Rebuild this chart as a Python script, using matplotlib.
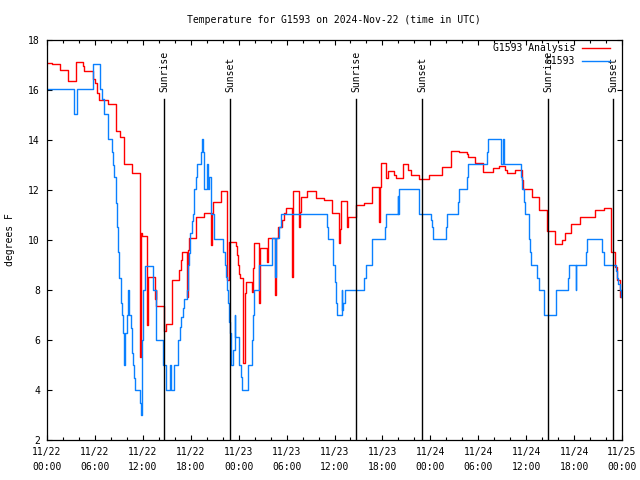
import matplotlib
matplotlib.use("Agg")
import matplotlib.pyplot as plt

plt.rcParams['font.family'] = ['DejaVu Sans Mono']

# hours since 11/22 00:00 UTC, temperature in degrees F (step data)
red_hours = [0, 0.58, 1.63, 2.67, 3.63, 4.55, 4.67, 5.72, 6.0, 6.3, 6.5, 7.68, 8.6, 9.14, 9.6, 9.68,
             10.69, 11.65, 11.8, 11.94, 12.57, 12.65, 13.52, 13.6, 13.65, 14.6, 14.7, 14.9, 15.7,
             16.57, 16.78, 16.95, 17.49, 17.6, 17.78, 18.66, 19.66, 20.55, 20.65, 20.83, 21.75,
             22.58, 22.83, 23.62, 23.75, 23.88, 24.08, 24.2, 24.58, 24.75, 24.88, 25.71, 25.85,
             25.96, 26.55, 26.67, 27.55, 27.71, 28.5, 28.7, 28.96, 29.46, 29.71, 29.88, 30.7,
             30.84, 31.6, 31.7, 31.8, 32.6, 33.68, 34.73, 35.65, 36.61, 36.7, 36.81, 37.6, 37.73,
             38.65, 39.65, 40.66, 41.57, 41.7, 41.82, 42.5, 42.74, 43.4, 43.7, 44.62, 45.2, 45.58,
             46.58, 47.83, 49.5, 50.55, 51.63, 52.55, 52.68, 53.59, 54.55, 55.81, 56.6, 57.3,
             57.64, 58.6, 59.5, 59.64, 60.69, 61.64, 62.65, 63.61, 64.5, 64.86, 65.57, 66.74,
             68.62, 69.75, 70.59, 71.13, 71.34, 71.75, 72]
red_temp = [17.07, 17.03, 16.8, 16.35, 17.11, 16.96, 16.76, 16.45, 16.29, 15.87, 15.6, 15.43, 14.37,
            14.11, 13.77, 13.03, 12.67, 5.33, 10.27, 10.16, 6.6, 8.51, 7.63, 8.0, 7.36, 6.87, 6.36,
            6.64, 8.4, 8.8, 9.2, 9.51, 7.73, 9.6, 10.09, 10.93, 11.09, 9.8, 11.09, 11.51, 11.97,
            8.4, 9.93, 9.76, 9.4, 9.0, 8.64, 8.47, 5.09, 7.87, 8.33, 7.93, 8.87, 9.87, 7.47, 9.67,
            9.13, 10.07, 7.8, 10.07, 10.53, 10.8, 11.07, 11.27, 8.53, 11.96, 10.53, 11.13, 11.73,
            11.97, 11.67, 11.6, 11.07, 9.87, 10.43, 11.56, 10.53, 10.93, 11.39, 11.47, 12.11,
            10.73, 12.11, 13.07, 12.47, 12.75, 12.6, 12.47, 13.03, 12.8, 12.6, 12.44, 12.6, 12.91,
            13.57, 13.5, 13.44, 13.31, 13.07, 12.73, 12.87, 12.96, 12.8, 12.67, 12.8, 12.4, 12.03,
            11.71, 11.2, 10.36, 9.83, 10.0, 10.27, 10.63, 10.91, 11.19, 11.27, 9.51, 8.93, 8.4,
            7.73, 7.73]

blue_hours = [0, 3.42, 3.71, 5.72, 6.64, 6.93, 7.09, 7.6, 7.68, 8.1, 8.3, 8.39, 8.6, 8.72, 8.85,
              9.02, 9.22, 9.35, 9.48, 9.6, 9.77, 9.98, 10.18, 10.3, 10.52, 10.69, 10.81, 10.94,
              11.02, 11.65, 11.73, 11.9, 11.94, 12.06, 12.27, 13.23, 13.65, 14.57, 14.9,
              15.45, 15.55, 15.94, 16.44, 16.6, 16.74, 16.99, 17.19, 17.49, 17.62, 17.78, 17.94,
              18.12, 18.24, 18.41, 18.66, 18.82, 19.28, 19.45, 19.57, 19.7, 20.05, 20.2, 20.29,
              20.49, 20.91, 22.08, 22.29, 22.41, 22.5, 22.62, 22.83, 22.95, 23.0, 23.08, 23.25,
              23.5, 23.6, 24.08, 24.29, 24.46, 25.21, 25.63, 25.75, 25.96, 26.58, 28.21, 28.55,
              28.65, 29.09, 29.26, 35.02, 35.14, 35.85, 36.06, 36.19, 36.35, 36.9, 36.98, 37.1,
              37.32, 39.74, 39.9, 40.74, 42.32, 42.45, 43.91, 43.99, 44.12, 46.62, 48.04, 48.17,
              48.37, 49.92, 50.05, 51.5, 51.63, 52.55, 52.68, 55.14, 55.26, 56.81, 57.14, 57.23,
              59.31, 59.44, 59.77, 59.89, 60.31, 60.48, 60.65, 61.4, 61.57, 62.27, 63.7, 65.28,
              65.41, 66.2, 66.3, 67.53, 67.66, 69.54, 69.75, 71.25, 71.34, 71.55, 71.75, 71.88, 72]
blue_temp = [16.03, 15.04, 16.03, 17.03, 16.03, 15.63, 15.03, 14.51, 14.03, 13.51, 13.0, 12.51,
             11.49, 10.53, 9.53, 8.47, 7.47, 7.0, 6.27, 5.0, 6.27, 7.0, 8.0, 7.0, 6.47, 5.47, 5.0,
             4.47, 4.0, 3.49, 3.0, 3.49, 6.0, 8.0, 8.96, 8.0, 6.0, 5.0, 4.0, 5.0, 4.0, 5.0,
             6.0, 6.53, 6.93, 7.27, 7.63, 8.0, 9.0, 9.47, 10.27, 10.77, 11.04, 12.03, 12.51, 13.04,
             13.53, 14.03, 13.53, 12.03, 13.04, 12.03, 12.53, 11.03, 10.03, 9.53, 9.0, 8.53, 8.0,
             7.49, 6.73, 6.27, 5.47, 5.0, 5.6, 7.0, 6.13, 5.0, 4.51, 4.0, 5.0, 6.0, 7.0, 8.0, 9.0,
             10.07, 8.53, 10.07, 10.53, 11.03, 10.53, 10.03, 9.0, 8.33, 7.49, 7.0, 8.0, 7.2, 7.49,
             8.0, 8.47, 9.0, 10.03, 10.53, 11.03, 11.77, 11.03, 12.03, 11.03, 10.8, 10.53, 10.03,
             10.53, 11.03, 11.53, 12.03, 12.51, 13.03, 13.53, 14.03, 13.04, 14.03, 13.04, 12.53,
             12.03, 11.53, 11.03, 10.03, 9.53, 8.99, 8.47, 7.99, 6.99, 8.0, 8.47, 9.0, 8.0, 9.0,
             9.53, 10.03, 9.53, 9.0, 8.75, 8.47, 8.25, 8.0, 7.73, 7.73]

sunrise_hours = [14.7, 38.72, 62.75]
sunset_hours = [22.97, 46.98, 70.9]

xtick_labels = ['11/22\n00:00', '11/22\n06:00', '11/22\n12:00', '11/22\n18:00',
                '11/23\n00:00', '11/23\n06:00', '11/23\n12:00', '11/23\n18:00',
                '11/24\n00:00', '11/24\n06:00', '11/24\n12:00', '11/24\n18:00',
                '11/25\n00:00']

fig = plt.figure(figsize=(6.4, 4.8), dpi=100)
ax = fig.add_axes([47 / 640, 40 / 480, 575 / 640, 400 / 480])

ax.step(red_hours, red_temp, where='post', color='#ff0000', lw=1.0, label='G1593 Analysis')
ax.step(blue_hours, blue_temp, where='post', color='#0a80ff', lw=1.0, label='G1593')

for h in sunrise_hours:
    ax.plot([h, h], [2, 15.64], color='black', lw=1.0)
    ax.text(h, 15.92, 'Sunrise', rotation=90, ha='center', va='bottom', fontsize=7)
for h in sunset_hours:
    ax.plot([h, h], [2, 15.64], color='black', lw=1.0)
    ax.text(h, 15.92, 'Sunset', rotation=90, ha='center', va='bottom', fontsize=7)

ax.set_xlim(0, 72)
ax.set_ylim(2, 18)
ax.set_xticks(range(0, 73, 6))
ax.set_xticklabels(xtick_labels, fontsize=7, linespacing=1.6)
ax.set_xticks(range(0, 73, 2), minor=True)
ax.set_yticks(range(2, 19, 2))
ax.set_yticklabels([str(v) for v in range(2, 19, 2)], fontsize=7)
ax.tick_params(which='major', direction='in', top=True, right=True, length=3.5, width=0.8, pad=5)
ax.tick_params(which='minor', direction='in', top=True, right=False, length=2, width=0.8)
ax.tick_params(axis='y', which='minor', left=False, right=False)
for s in ax.spines.values():
    s.set_linewidth(0.9)

ax.set_ylabel('degrees F', fontsize=7)
ax.yaxis.set_label_coords(-0.055, 0.5)

fig.text(334 / 640, 1 - 20 / 480, 'Temperature for G1593 on 2024-Nov-22 (time in UTC)',
         ha='center', va='center', fontsize=7)

ax.legend(loc='upper right', bbox_to_anchor=(610 / 640, 1 - 43 / 480),
          bbox_transform=fig.transFigure, frameon=False, markerfirst=False,
          fontsize=7, handlelength=2.9, handletextpad=0.7, labelspacing=0.35,
          borderpad=0, borderaxespad=0)

fig.savefig('out.png', dpi=100)
